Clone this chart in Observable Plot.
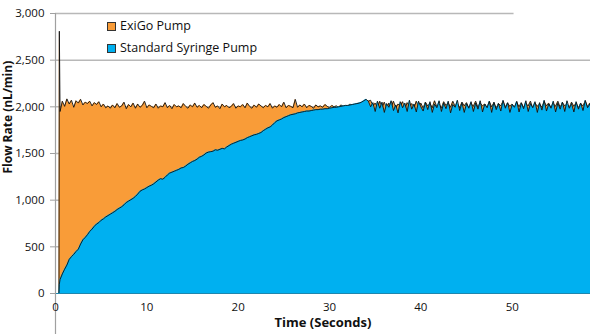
<!DOCTYPE html>
<html><head><meta charset="utf-8">
<script src="https://cdn.jsdelivr.net/npm/d3@7"></script>
<script src="https://cdn.jsdelivr.net/npm/@observablehq/plot@0.6"></script>
<style>
body{margin:0;background:#fff;}
#wrap{position:relative;width:590px;height:334px;font-family:"Open Sans",sans-serif;overflow:hidden;}
.lg{position:absolute;left:107px;font-size:12.5px;line-height:16px;color:#111;display:flex;align-items:center;white-space:nowrap;}
.sw{width:7px;height:7px;border:1px solid #333;margin-right:4px;}
</style></head><body><div id="wrap"></div>
<script>
// Time axis (seconds): first points around the start, then every 0.25 s
const headTime = [0, 0.38, 0.42, 0.5];
const time = headTime.concat(d3.range(3, 236).map(i => i / 4));

const seriesNames = ["ExiGo Pump", "Standard Syringe Pump"];
const seriesColors = ["#f99c38", "#00b0f0"];
const yTicks = [0, 500, 1000, 1500, 2000, 2500, 3000];
const xTicks = [0, 10, 20, 30, 40, 50];

// ExiGo Pump flow rate (nL/min)
const exigo = [-30, -30, 2810, 1950,
  2060,2005,2085,2030,2070,1995,2065,2040,2080,2020,2050,2035,2060,2010,2045,2025,2055,2000,2030,1990,
  2010,1985,2020,1990,2035,1995,2010,2050,1980,2025,2000,2040,1985,2030,1995,2015,2060,1990,2020,2005,
  1990,2030,1985,2010,2000,2045,1990,2015,1980,2025,2000,2010,1990,2035,2005,1985,2020,2000,2040,1995,
  2015,1990,2025,2005,1985,2020,2045,1995,2010,1980,2030,2000,2015,1990,2005,2035,1985,2010,2000,2025,
  1990,2040,2005,1985,2020,1995,2030,2010,1990,2015,2000,2035,1985,2010,1995,2025,2000,2050,1990,2015,
  2005,1990,2080,1995,2020,2000,2030,1990,2015,2005,1985,2020,2000,2010,1995,2025,2005,1990,2015,2000,
  2010,1995,2020,2005,2015,2000,2030,2010,2025,2015,2040,2030,2050,2045,2060,2070,2010,2040,1990,2060,
  1995,2050,1985,2040,2000,2060,1990,2030,2010,2055,1980,2045,2005,2035,1990,2060,2000,2040,1985,2050,
  2010,2035,1990,2065,2000,2030,1985,2055,2015,2040,1995,2060,2005,2030,1990,2050,2010,2045,1985,2035,
  2005,2060,1995,2040,2010,2030,1990,2055,2000,2045,1985,2035,2010,2060,1995,2040,2005,2030,1990,2050,
  2000,2045,1990,2035,2010,2060,1985,2040,2005,2030,1995,2055,2010,2040,1990,2035,2005,2060,1995,2045,
  2010,2030,1990,2050,2005,2040,1985,2035,2010,2060,2000,2040,1995];

// Standard Syringe Pump flow rate (nL/min)
const standard = [0, 0, 100, 150,
  210,260,305,365,395,420,450,475,530,575,600,630,665,690,720,745,760,785,800,820,
  835,850,865,880,900,915,930,950,975,990,1005,1020,1040,1065,1095,1110,1120,1135,1150,1160,
  1175,1195,1215,1230,1225,1245,1270,1290,1300,1310,1320,1330,1345,1350,1365,1385,1400,1415,1425,1440,
  1460,1470,1485,1505,1515,1520,1525,1540,1535,1545,1555,1550,1570,1585,1600,1610,1620,1630,1640,1645,
  1655,1670,1680,1690,1700,1705,1715,1725,1745,1760,1775,1785,1805,1830,1850,1860,1870,1885,1895,1905,
  1915,1920,1925,1935,1940,1945,1950,1955,1955,1960,1965,1970,1970,1975,1975,1980,1980,1985,1990,1995,
  1995,2000,2005,2010,2015,2015,2020,2025,2030,2035,2040,2050,2065,2080,2060,2000,2045,1950,2060,1985,
  2050,1940,2035,1995,2065,1960,2020,1935,2055,1990,2040,1950,2070,1975,2030,1945,2060,2000,1955,2045,
  1970,2055,1940,2030,1990,2065,1950,2040,1980,2060,1935,2025,1995,2070,1960,2045,1940,2035,1985,2055,
  1950,2040,1975,2065,1945,2030,1990,2060,1940,2050,1970,2035,1955,2070,1985,2045,1940,2025,1995,2060,
  1945,2040,1980,2065,1950,2035,1990,2055,1940,2045,1965,2070,1955,2030,1985,2060,1945,2040,1975,2050,
  1950,2065,1985,2035,1945,2055,1975,2040,1960,2070,1990,2030,1955];

const data = time.map((t, i) => ({t, exigo: exigo[i], standard: standard[i]}));
const fmt = d3.format(",");

const chart = Plot.plot({
  width: 590, height: 334,
  marginLeft: 55, marginRight: 0, marginTop: 13, marginBottom: 41,
  style: {fontFamily: "'Open Sans', sans-serif", fontSize: "11.5px", color: "#111", background: "#fff", overflow: "visible"},
  x: {domain: [0, 58.57], axis: null},
  y: {domain: [0, 3000], axis: null},
  marks: [
    Plot.gridY(yTicks.filter(d => d > 0 && d < 3000), {stroke: "#b8b8b8", strokeOpacity: 1, strokeWidth: 1.5}),
    Plot.ruleY([3000], {x1: 0, x2: 50.2, stroke: "#b8b8b8", strokeWidth: 1.5}),
    Plot.areaY(data, {x: "t", y: "exigo", fill: seriesColors[0], clip: true}),
    Plot.lineY(data, {x: "t", y: "exigo", stroke: "#111", strokeWidth: 0.9, clip: true}),
    Plot.areaY(data, {x: "t", y: "standard", fill: seriesColors[1], clip: true}),
    Plot.lineY(data, {x: "t", y: "standard", stroke: "#111", strokeWidth: 0.9, clip: true}),
    Plot.ruleY([0], {stroke: "#1f86ad", strokeWidth: 1}),
    Plot.ruleX([0], {y1: 3000, y2: -480, stroke: "#a0a0a0", strokeWidth: 1.2}),
    Plot.axisY({ticks: yTicks, tickFormat: fmt, tickSize: 5, tickPadding: 6, stroke: "#a0a0a0", label: null}),
    Plot.axisX({ticks: xTicks, tickSize: 0, tickPadding: 9, label: null}),
    Plot.text(["Time (Seconds)"], {frameAnchor: "bottom", dy: 33, fontWeight: "bold", fontSize: 13}),
    Plot.text(["Flow Rate (nL/min)"], {frameAnchor: "left", dx: -47, dy: 20, rotate: -90, fontWeight: "bold", fontSize: 12})
  ]
});

const wrap = document.getElementById("wrap");
wrap.appendChild(chart);
seriesNames.forEach((name, i) => {
  const row = document.createElement("div");
  row.className = "lg";
  row.style.top = (18 + i * 22) + "px";
  const sw = document.createElement("span");
  sw.className = "sw";
  sw.style.background = seriesColors[i];
  row.appendChild(sw);
  row.appendChild(document.createTextNode(name));
  wrap.appendChild(row);
});
</script>
</body></html>
